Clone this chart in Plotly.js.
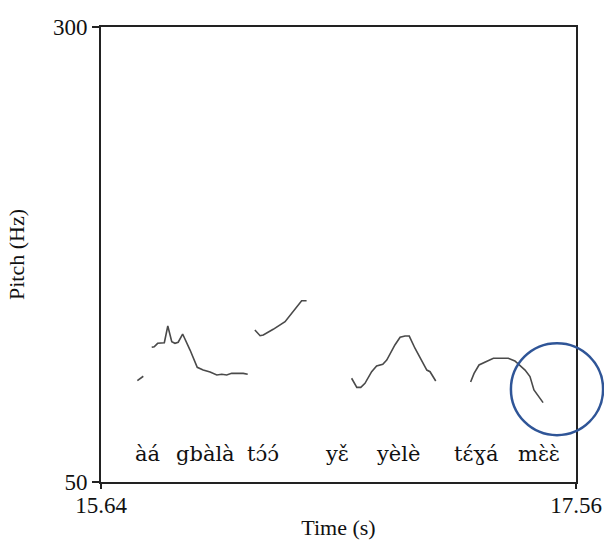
<!DOCTYPE html>
<html>
<head>
<meta charset="utf-8">
<script src="https://cdn.plot.ly/plotly-3.0.1.min.js"></script>
<style>html,body{margin:0;padding:0;background:#fff;}#chart{width:604px;height:540px;}</style>
</head>
<body>
<div id="chart"></div>
<script>
// Pitch track segments (time in s, pitch in Hz)
const seg1T = [15.787, 15.811];
const seg1F = [105.7, 108.1];
const seg2T = [15.845, 15.855, 15.869, 15.896, 15.910, 15.926, 15.939, 15.952, 15.970, 16.000, 16.029, 16.053, 16.081, 16.108, 16.128, 16.148, 16.168, 16.215, 16.233];
const seg2F = [124.0, 124.3, 126.2, 126.5, 135.7, 127.1, 126.2, 126.8, 131.3, 122.5, 113.0, 111.5, 110.4, 108.8, 109.2, 108.8, 109.7, 109.7, 109.2];
const seg3T = [16.262, 16.283, 16.296, 16.336, 16.384, 16.417, 16.451, 16.471];
const seg3F = [133.5, 130.4, 130.8, 133.9, 138.1, 143.6, 149.6, 149.6];
const seg4T = [16.653, 16.674, 16.690, 16.707, 16.734, 16.754, 16.779, 16.795, 16.828, 16.849, 16.869, 16.886, 16.909, 16.936, 16.957, 16.970, 16.993];
const seg4F = [107.0, 102.0, 102.0, 104.2, 110.6, 113.7, 114.7, 117.0, 125.3, 129.5, 130.2, 130.2, 123.5, 117.0, 111.5, 110.6, 105.5];
const seg5T = [17.134, 17.148, 17.168, 17.199, 17.226, 17.286, 17.313, 17.354, 17.374, 17.390, 17.408, 17.427];
const seg5F = [104.9, 109.7, 114.3, 116.1, 118.0, 118.0, 116.5, 111.5, 107.9, 100.6, 96.9, 93.6];

// Word labels
const words = ["àá", "gbàlà", "tɔ́ɔ́", "yɛ̌", "yèlè", "tɛ́ɣá", "mɛ̀ɛ̀"];
const wordTimes = [15.828, 16.064, 16.295, 16.594, 16.840, 17.156, 17.410];
const wordPitch = 65.4;

const xRange = [15.64, 17.56];
const yRange = [50, 300];
const xTicks = [15.64, 17.56];
const xTickText = ["15.64", "17.56"];
const yTicks = [50, 300];

const segsT = [seg1T, seg2T, seg3T, seg4T, seg5T];
const segsF = [seg1F, seg2F, seg3F, seg4F, seg5F];
const traces = segsT.map((t, i) => ({
  x: t, y: segsF[i], type: 'scatter', mode: 'lines',
  line: {color: '#4a4a4a', width: 1.6}, hoverinfo: 'skip', showlegend: false
}));

const serif = 'Liberation Serif';
const labelFont = 'DejaVu Serif';
const annotations = words.map((w, i) => ({
  x: wordTimes[i], y: wordPitch, xref: 'x', yref: 'y', text: w, showarrow: false,
  font: {family: labelFont, size: 21, color: '#111'}, xanchor: 'center', yanchor: 'middle'
}));

const layout = {
  width: 604, height: 540,
  margin: {l: 101, r: 28, t: 27, b: 58, pad: 0},
  paper_bgcolor: '#fff', plot_bgcolor: '#fff',
  showlegend: false,
  font: {family: serif, color: '#111'},
  xaxis: {
    range: xRange, tickvals: xTicks, ticktext: xTickText,
    showgrid: false, zeroline: false, showline: true, linecolor: '#222', linewidth: 2,
    mirror: true, ticks: 'outside', ticklen: 5, tickcolor: '#222', tickwidth: 1.5,
    ticklabelstandoff: -4,
    tickfont: {family: serif, size: 23, color: '#111'},
    title: {text: 'Time (s)', font: {family: serif, size: 22, color: '#111'}, standoff: 4}
  },
  yaxis: {
    range: yRange, tickvals: yTicks, ticktext: yTicks.map(String),
    showgrid: false, zeroline: false, showline: true, linecolor: '#222', linewidth: 2,
    mirror: true, ticks: 'outside', ticklen: 7, tickcolor: '#222', tickwidth: 1.5,
    tickfont: {family: serif, size: 23, color: '#111'},
    title: {text: 'Pitch (Hz)', font: {family: serif, size: 22, color: '#111'}, standoff: 22}
  },
  annotations: annotations,
  shapes: [{
    type: 'circle', xref: 'paper', yref: 'paper',
    x0: 0.863, x1: 1.057, y0: 0.103, y1: 0.305,
    line: {color: '#2f5597', width: 2.5}, fillcolor: 'rgba(0,0,0,0)'
  }]
};

Plotly.newPlot('chart', traces, layout, {displayModeBar: false, staticPlot: true});
</script>
</body>
</html>
